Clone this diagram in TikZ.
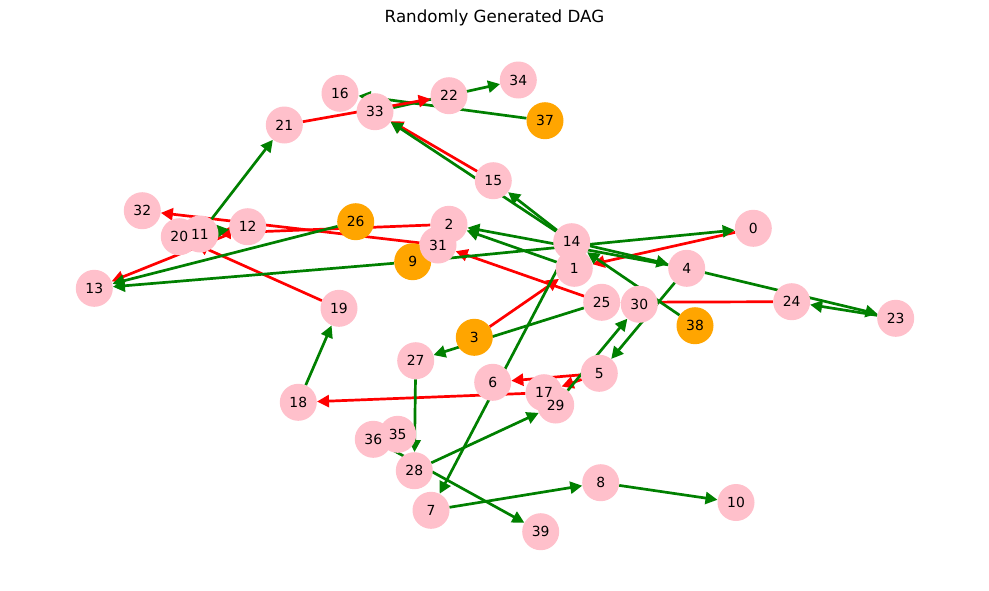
\documentclass[tikz,border=0pt]{standalone}
\usepackage{fontspec}
\setmainfont{DejaVu Sans}
\usetikzlibrary{arrows.meta,backgrounds}
\definecolor{nodepink}{HTML}{FFC0CB}
\definecolor{nodeorange}{HTML}{FFA500}
\definecolor{keepgreen}{HTML}{008000}
\definecolor{cutred}{HTML}{FF0000}
\begin{document}
\begin{tikzpicture}[x=1pt,y=-1pt,
  vtx/.style={circle, minimum size=37pt, inner sep=0pt, draw=none},
  lbl/.style={font=\fontsize{13.9}{15}\selectfont, inner sep=0pt},
  edge/.style={line width=2.7pt, -{Triangle[length=12pt,width=12pt]}},
  keep/.style={edge, draw=keepgreen},
  cut/.style={edge, draw=cutred}]
\useasboundingbox (0,0) rectangle (989,590);

% title
\node[font=\fontsize{16.7}{20}\selectfont] (title) at (494.5,18) {Randomly Generated DAG};

% vertices: name / x / y / fill
\foreach \n/\x/\y/\c in {
  0/753.3/228.3/nodepink, 1/574.3/268.3/nodepink, 2/449/224.3/nodepink,
  3/474.3/337.3/nodeorange, 4/686.7/268.3/nodepink, 5/599.3/373.3/nodepink,
  6/492.7/382.3/nodepink, 7/431/510.3/nodepink, 8/600.7/482.7/nodepink,
  9/412.7/261.7/nodeorange, 10/736/502.5/nodepink, 11/200/234/nodepink,
  12/247.7/226.7/nodepink, 13/94.3/288.3/nodepink, 14/571.7/241.7/nodepink,
  15/493.3/180.7/nodepink, 16/340/93.3/nodepink, 17/544/392.7/nodepink,
  18/298.3/402.3/nodepink, 19/339/308.3/nodepink, 20/179.3/236.7/nodepink,
  21/284.3/125/nodepink, 22/449/95.7/nodepink, 23/895.7/318.3/nodepink,
  24/791.7/301.7/nodepink, 25/601.7/302.3/nodepink, 26/355.7/221.7/nodeorange,
  27/415.7/360.7/nodepink, 28/414.3/470.7/nodepink, 29/555.7/405/nodepink,
  30/639.3/304.3/nodepink, 31/438/245/nodepink, 32/142.3/210.7/nodepink,
  33/375/111.7/nodepink, 34/518.3/80/nodepink, 35/397.7/434.3/nodepink,
  36/373.3/439.3/nodepink, 37/545/120.7/nodeorange, 38/695/325.7/nodeorange,
  39/540.7/531.7/nodepink}
  { \node[vtx, fill=\c] (v\n) at (\x,\y) {}; }

% labels on top of all discs
\foreach \n in {0,...,39} { \node[lbl] (t\n) at (v\n) {\n}; }

% connectors, kept underneath the discs
\begin{scope}[on background layer]
  \fill[white] (0,0) rectangle (989,590);
  \foreach \a/\b in {15/33, 0/1, 3/1, 25/31, 24/25, 5/6, 5/17, 17/18,
                     12/13, 19/20, 31/32, 2/11}
    { \draw[cut] (v\a) -- (v\b); }
  \foreach \a/\b in {11/21, 37/16, 33/34, 14/15, 14/33, 4/2, 14/4, 1/2,
                     9/0, 9/13, 26/13, 20/12, 38/14, 4/5, 29/30, 14/7,
                     7/8, 8/10, 28/29, 36/39, 27/28, 18/19, 25/27, 4/23, 23/24}
    { \draw[keep] (v\a) -- (v\b); }
  \draw[cut] (v21) -- (v22);
\end{scope}
\end{tikzpicture}
\end{document}
